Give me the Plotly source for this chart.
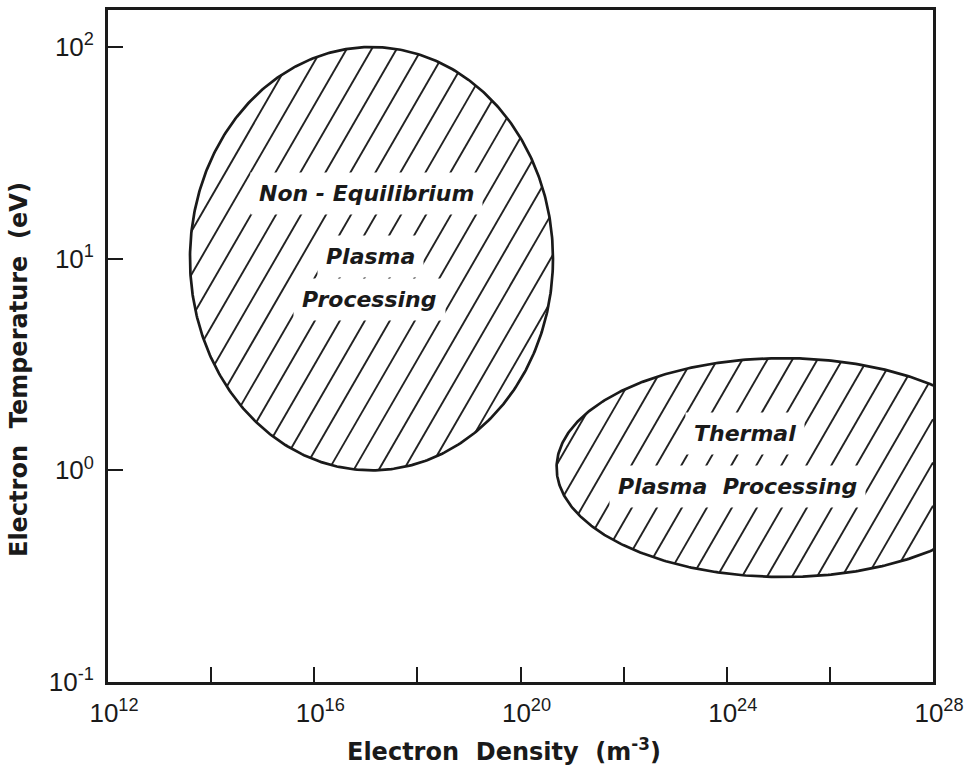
import numpy as np
import plotly.graph_objects as go

# ---------------- data (log10 units) ----------------
region_labels = ["<i>Non - Equilibrium</i>", "<i>Plasma</i>", "<i>Processing</i>",
                 "<i>Thermal</i>", "<i>Plasma  Processing</i>"]
label_log_ne = [17.02, 17.10, 17.08, 24.35, 24.20]
label_log_te = [1.31, 1.012, 0.805, 0.172, -0.078]

region_names = ["Non-Equilibrium Plasma Processing", "Thermal Plasma Processing"]
region_log_ne_center = [17.11, 25.1]
region_log_ne_halfwidth = [3.52, 4.4]
region_log_te_center = [1.0, 0.013]
region_log_te_halfwidth = [1.0, 0.517]

x_tick_exponents = [12, 14, 16, 18, 20, 22, 24, 26, 28]
x_tick_text = ["10<sup>12</sup>", "", "10<sup>16</sup>", "", "10<sup>20</sup>", "",
               "10<sup>24</sup>", "", "10<sup>28</sup>"]
y_tick_exponents = [-1, 0, 1, 2]
y_tick_text = ["10<sup>-1</sup>", "10<sup>0</sup>", "10<sup>1</sup>", "10<sup>2</sup>"]

x_range = [12, 28]
y_range = [-1, 2.175]

# ---------------- layout geometry ----------------
W, H = 968, 771
ML, MR, MT, MB = 108, 35, 10, 89
PW, PH = W - ML - MR, H - MT - MB
sx = PW / (x_range[1] - x_range[0])
sy = PH / (y_range[1] - y_range[0])


def to_px(lx, ly):
    return ML + (lx - x_range[0]) * sx, MT + (y_range[1] - ly) * sy


def to_log(px, py):
    return x_range[0] + (px - ML) / sx, y_range[1] - (py - MT) / sy


fig = go.Figure()

# hatch lines (computed in screen space so angle matches)
theta = np.deg2rad(60)
d = np.array([np.cos(theta), -np.sin(theta)])
n = np.array([np.sin(theta), np.cos(theta)])
h_spacing = 25
p_spacing = h_spacing * np.sin(theta)
right_px = ML + PW

for k in range(len(region_names)):
    cxp, cyp = to_px(region_log_ne_center[k], region_log_te_center[k])
    a = region_log_ne_halfwidth[k] * sx
    b = region_log_te_halfwidth[k] * sy
    hx, hy = [], []
    cmin = int(np.floor(-3000 / p_spacing))
    cmax = int(np.ceil(3000 / p_spacing))
    for i in range(cmin, cmax):
        c = i * p_spacing
        p0 = c * n
        qx, qy = p0[0] - cxp, p0[1] - cyp
        A = d[0] ** 2 / a ** 2 + d[1] ** 2 / b ** 2
        B = 2 * (qx * d[0] / a ** 2 + qy * d[1] / b ** 2)
        C = qx ** 2 / a ** 2 + qy ** 2 / b ** 2 - 1
        disc = B * B - 4 * A * C
        if disc <= 0:
            continue
        t1 = (-B - np.sqrt(disc)) / (2 * A)
        t2 = (-B + np.sqrt(disc)) / (2 * A)
        t_cut = (right_px - p0[0]) / d[0]
        t2 = min(t2, t_cut)
        if t2 <= t1:
            continue
        for t in (t1, t2):
            px, py = p0 + t * d
            lx, ly = to_log(px, py)
            hx.append(float(10.0 ** lx))
            hy.append(float(10.0 ** ly))
        hx.append(None)
        hy.append(None)
    fig.add_trace(go.Scatter(x=hx, y=hy, mode="lines",
                             line=dict(color="#222", width=1.9),
                             hoverinfo="skip", showlegend=False))

    tt = np.linspace(0, 2 * np.pi, 500)
    ex = 10.0 ** (region_log_ne_center[k] + region_log_ne_halfwidth[k] * np.cos(tt))
    ey = 10.0 ** (region_log_te_center[k] + region_log_te_halfwidth[k] * np.sin(tt))
    fig.add_trace(go.Scatter(x=ex, y=ey, mode="lines", name=region_names[k],
                             line=dict(color="#1a1a1a", width=2.7),
                             showlegend=False))

# region labels
for txt, lx, ly in zip(region_labels, label_log_ne, label_log_te):
    fig.add_annotation(x=lx, y=ly, xref="x", yref="y", text=txt, showarrow=False,
                       font=dict(family="DejaVu Sans", size=22, color="#1a1a1a",
                                 weight="bold"),
                       bgcolor="white", borderpad=8)

# axis titles
fig.add_annotation(x=(504 - ML) / PW, y=(MT + PH - 750) / PH, xref="paper", yref="paper",
                   text="<b>Electron  Density  (m<sup>-3</sup>)</b>", showarrow=False,
                   font=dict(family="DejaVu Sans", size=24, color="#1a1a1a"),
                   xanchor="center", yanchor="middle")
fig.add_annotation(x=(19 - ML) / PW, y=(MT + PH - 370) / PH, xref="paper", yref="paper",
                   text="<b>Electron  Temperature  (eV)</b>", showarrow=False,
                   textangle=-90,
                   font=dict(family="DejaVu Sans", size=24, color="#1a1a1a"),
                   xanchor="center", yanchor="middle")

fig.update_xaxes(type="log", range=x_range, automargin=False,
                 tickvals=[10.0 ** e for e in x_tick_exponents], ticktext=x_tick_text,
                 ticks="inside", ticklen=15, tickwidth=2.2, tickcolor="#1a1a1a",
                 showline=True, linecolor="#1a1a1a", linewidth=2.7, mirror=True,
                 showgrid=False, zeroline=False, ticklabelstandoff=6, ticklabelshift=6,
                 tickfont=dict(family="Liberation Sans", size=26, color="#1a1a1a"))
fig.update_yaxes(type="log", range=y_range, automargin=False,
                 tickvals=[10.0 ** e for e in y_tick_exponents], ticktext=y_tick_text,
                 ticks="inside", ticklen=15, tickwidth=2.2, tickcolor="#1a1a1a",
                 showline=True, linecolor="#1a1a1a", linewidth=2.7, mirror=True,
                 showgrid=False, zeroline=False, ticklabelstandoff=6,
                 tickfont=dict(family="Liberation Sans", size=26, color="#1a1a1a"))

fig.update_layout(width=W, height=H, margin=dict(l=ML, r=MR, t=MT, b=MB),
                  paper_bgcolor="white", plot_bgcolor="white", showlegend=False)

fig.write_html("out.html")
